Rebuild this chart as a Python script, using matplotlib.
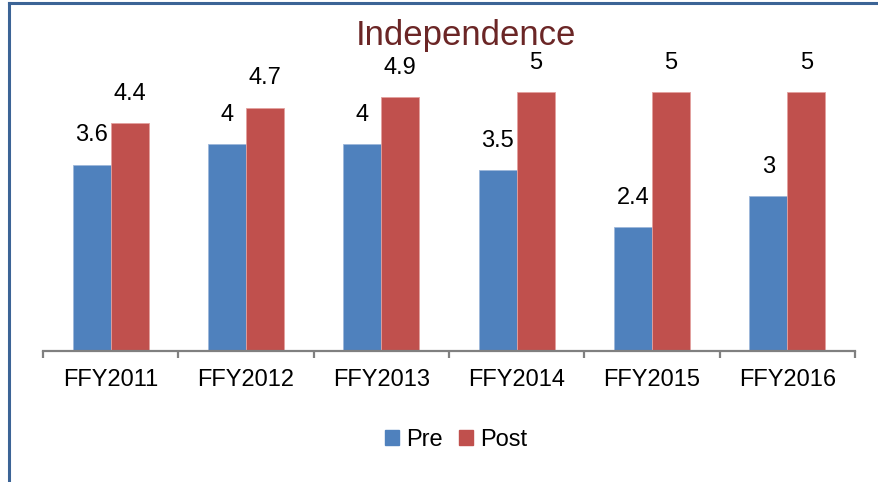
import matplotlib.pyplot as plt
import numpy as np
from matplotlib.lines import Line2D
from matplotlib.patches import Patch

years = ["FFY2011", "FFY2012", "FFY2013", "FFY2014", "FFY2015", "FFY2016"]
pre = [3.6, 4, 4, 3.5, 2.4, 3]
post = [4.4, 4.7, 4.9, 5, 5, 5]

BLUE = "#4F81BD"
RED = "#C0504D"
GRAY = "#808080"
FONT = ["Liberation Sans", "DejaVu Sans"]

fig = plt.figure(figsize=(8.79, 4.82), dpi=100)
ax = fig.add_axes([43 / 879, 1 - 351 / 482, 812 / 879, 6 * 51.8 / 482])

x = np.arange(len(years))
w = 0.28
b1 = ax.bar(x - w / 2, pre, w, color=BLUE, edgecolor="#9DB7DA", linewidth=0.6)
b2 = ax.bar(x + w / 2, post, w, color=RED, edgecolor="#E3A09E", linewidth=0.6)
for bars in (b1, b2):
    for t in ax.bar_label(bars, padding=13, fontsize=17):
        t.set_fontfamily(FONT)

ax.set_xlim(-0.5, len(years) - 0.5)
ax.set_ylim(0, 6)
for s in ("top", "right", "left"):
    ax.spines[s].set_visible(False)
ax.spines["bottom"].set_color(GRAY)
ax.spines["bottom"].set_linewidth(1.6)
ax.set_yticks([])
ax.set_xticks(np.arange(len(years) + 1) - 0.5)
ax.set_xticklabels([])
ax.tick_params(axis="x", which="major", length=5, width=1.6, color=GRAY)
ax.set_xticks(x, minor=True)
ax.set_xticklabels(years, minor=True, fontsize=17, fontfamily=FONT)
ax.tick_params(axis="x", which="minor", length=0, pad=13)

fig.text(466 / 879, 1 - 36 / 482, "Independence", ha="center", va="center",
         fontsize=25, color="#6B2626", fontfamily=FONT)

handles = [Patch(color=BLUE, label="Pre"), Patch(color=RED, label="Post")]
fig.legend(handles=handles, loc="center", bbox_to_anchor=(456 / 879, 1 - 440 / 482),
           ncol=2, frameon=False, handlelength=0.6, handleheight=0.6,
           handletextpad=0.3, columnspacing=0.7,
           prop={"family": FONT, "size": 17})

# blue frame on top and left
fig.add_artist(Line2D([9 / 879, 1], [1 - 3 / 482] * 2, color="#3C6496", lw=2.2))
fig.add_artist(Line2D([9 / 879] * 2, [0, 1 - 3 / 482], color="#3C6496", lw=2.2))

fig.savefig("out.png", dpi=100)
